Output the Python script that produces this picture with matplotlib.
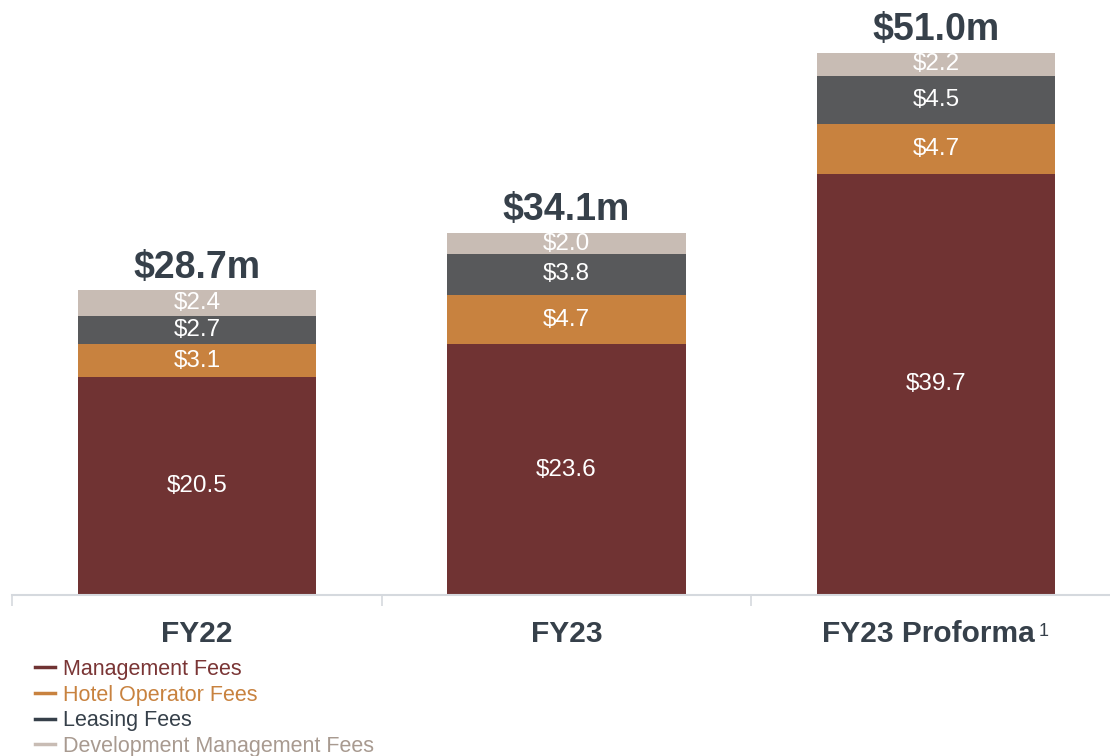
import matplotlib
matplotlib.use("Agg")
import matplotlib.pyplot as plt
from matplotlib.lines import Line2D
import numpy as np

plt.rcParams['font.family'] = ['Liberation Sans', 'DejaVu Sans']

categories = ["FY22", "FY23", "FY23 Proforma"]
series_names = ["Management Fees", "Hotel Operator Fees", "Leasing Fees", "Development Management Fees"]
management = [20.5, 23.6, 39.7]
hotel = [3.1, 4.7, 4.7]
leasing = [2.7, 3.8, 4.5]
development = [2.4, 2.0, 2.2]
totals = ["$28.7m", "$34.1m", "$51.0m"]

bar_colors = ["#703333", "#C8823F", "#58595B", "#C8BCB4"]
legend_line_colors = ["#703333", "#C8823F", "#36404A", "#C8BCB4"]
legend_text_colors = ["#7A3535", "#C8823F", "#36404A", "#A89A90"]
dark = "#36404A"

fig = plt.figure(figsize=(11.1, 7.56), dpi=100)
ax = fig.add_axes([12/1110, 161/756, 1 - 12/1110, 1 - 161/756 - 9/756])

x = np.arange(len(categories))
width = 0.645
bottom = np.zeros(len(categories))
for vals, col in zip([management, hotel, leasing, development], bar_colors):
    vals = np.array(vals)
    ax.bar(x, vals, width, bottom=bottom, color=col, edgecolor='none')
    for xi, b, v in zip(x, bottom, vals):
        ax.text(xi, b + v / 2, f"${v:.1f}", ha='center', va='center',
                color='white', fontsize=17.5)
    bottom = bottom + vals

for xi, top, lab in zip(x, bottom, totals):
    ax.annotate(lab, (xi, top), xytext=(0, 9), textcoords='offset points',
                ha='center', va='baseline', fontsize=27, fontweight='bold', color=dark)

for s in ['top', 'right', 'left']:
    ax.spines[s].set_visible(False)
ax.spines['bottom'].set_color('#D5D9DE')
ax.spines['bottom'].set_linewidth(1.5)
ax.set_yticks([])
ax.set_xticks(x)
ax.set_xticklabels([])
ax.tick_params(axis='x', which='major', length=0)
ax.set_xticks([-0.5, 0.5, 1.5, 2.5], minor=True)
ax.tick_params(axis='x', which='minor', length=8, width=1.2, color='#D5D9DE', direction='out')
ax.set_xlim(-0.5, 2.47)
ax.set_ylim(0, 55.2)

# category labels
trans = ax.get_xaxis_transform()
cat_texts = []
for xi, lab in zip(x, categories):
    dx = -8 if lab == "FY23 Proforma" else 0
    t = ax.annotate(lab, (xi, 0), xycoords=trans, xytext=(dx / 1.389, -39 / 1.389),
                    textcoords='offset points', ha='center', va='center',
                    fontsize=21.5, fontweight='bold', color=dark)
    cat_texts.append(t)

fig.canvas.draw()
renderer = fig.canvas.get_renderer()
bb = cat_texts[2].get_window_extent(renderer)
fig.text((bb.x1 + 4) / fig.bbox.width, (bb.y1 - 3) / fig.bbox.height, "1",
         ha='left', va='top', fontsize=13, color=dark)

handles = [Line2D([0], [0], color=c, lw=2.5) for c in legend_line_colors]
leg = fig.legend(handles, series_names, loc='upper left',
                 bbox_to_anchor=(35/1110, 1 - 659/756), frameon=False,
                 fontsize=15.5, handlelength=0.95, handletextpad=0.35,
                 labelspacing=0.21, borderaxespad=0, borderpad=0,
                 labelcolor=legend_text_colors)

fig.savefig("out.png", dpi=100)
